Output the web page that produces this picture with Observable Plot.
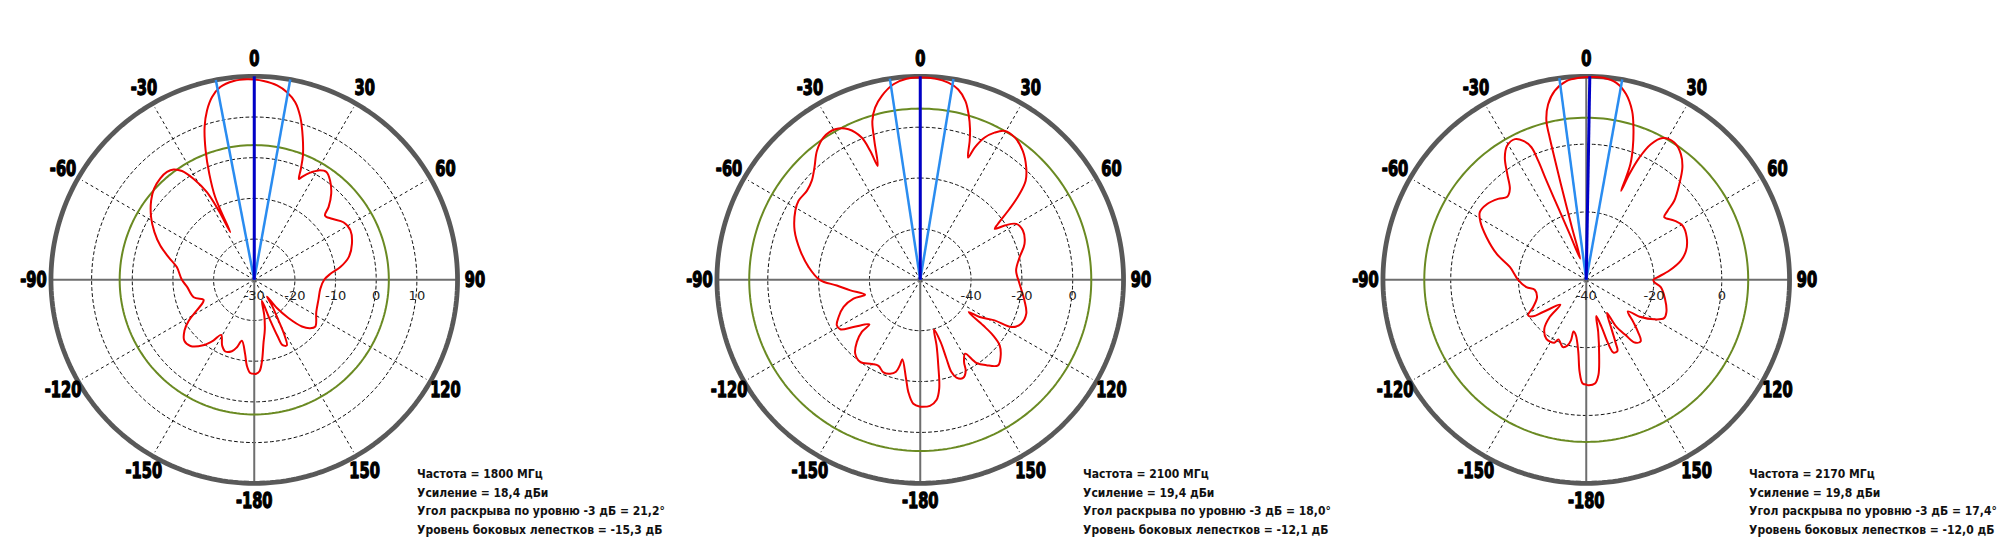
<!DOCTYPE html>
<html>
<head>
<meta charset="utf-8">
<script src="https://cdn.jsdelivr.net/npm/d3@7"></script>
<script src="https://cdn.jsdelivr.net/npm/@observablehq/plot@0.6"></script>
<style>
  html, body { margin: 0; padding: 0; background: #fff; }
  #chart { width: 2000px; height: 558px; }
</style>
</head>
<body>
<div id="chart"></div>
<script>
// ---------- data ----------
const freqs = ["1800", "2100", "2170"];

const angles1800 = [-180,-177.5,-175,-173,-168.5,-165.6,-162.6,-158,-154,-149,-146,-142,-136,-131,-126,-122,-118,-113.8,-111.5,-106,-96,-90,-80.7,-75.2,-70,-64.5,-58.7,-52.4,-47.7,-42.8,-39,-36.2,-33.6,-31,-28.4,-27.2,-26.7,-25.3,-23,-20.6,-18,-15.6,-13,-10,-5.9,-2.1,0,2.7,6.7,9.9,13,15.8,18.8,21.4,22.8,23.9,24.9,27.6,30.5,33.8,37.4,41.8,45.6,47.8,51.9,57.2,62.8,69.8,76.5,81.6,85.5,90,97.8,106.5,117.5,127.4,130.8,134.4,138.2,141.3,142.8,145.5,149.1,151.4,153.6,156.5,157.5,158.5,160,164.3,168,171.5,174.7,176.7,178.8,180];
const db1800 = [-6.9,-7.1,-8.9,-11.6,-14.7,-12.9,-11.6,-11,-12,-14.2,-12,-9.6,-7.4,-7.2,-8.8,-11,-14,-16.2,-16.6,-14.5,-13.4,-12.2,-10.7,-8.2,-5.4,-2.8,-0.3,2.0,3.3,4.0,4.1,3.6,2.1,-1.1,-5.5,-10.8,-16.9,-7.5,-1.7,4.0,9.5,13.2,16.1,18.1,19.1,19.3,19.2,18.9,18.1,16.8,14.8,11.6,7.0,2.8,-0.4,-2.9,-2.1,-0.3,1.2,1.9,0.7,-1.6,-4.4,-6.5,-5.7,-3.9,-3.4,-4.4,-6.1,-8.6,-11.2,-12.8,-13.6,-13.5,-12.8,-11.1,-11.8,-13.6,-17.4,-21.1,-24.8,-22.3,-18.4,-14.4,-12,-12.5,-15,-19.5,-24.5,-20.9,-17.5,-14.5,-9.7,-7.5,-6.9,-6.9];

const angles2100 = [-180,-176.8,-173.9,-171.8,-167.3,-166.6,-165.2,-162.2,-158.3,-154.1,-150,-143.8,-138.6,-134.4,-131.7,-131.2,-125.2,-121.7,-118.6,-114.5,-109.5,-105.8,-105.2,-98.6,-93.9,-90,-83.5,-76.3,-68.6,-61,-57,-51.8,-47.6,-43.3,-38.7,-34.2,-29.5,-25.5,-22.4,-21.2,-20.5,-18.3,-16.8,-14.7,-11.8,-7.8,-3.9,0,4.2,8.1,11.3,14.2,16.3,18.3,19.6,21.4,22.4,24.4,26.8,29.6,33.6,38.5,43.3,46.8,49.2,51.6,54.3,55.7,57.3,59.8,64.4,71,77.2,84.5,92.3,101.2,107.7,113.5,117.4,118.6,122,123.6,125.9,127.3,129.5,133.8,137.7,142.2,145.9,148.7,151.9,153.5,156.4,159.7,161.3,161.6,161.9,164.6,166,168.1,170.1,172.3,175.6,180];
const db2100 = [-10.1,-11.2,-15.7,-20.8,-28,-25.5,-22.6,-21.2,-20.8,-22.4,-21.8,-20,-21.3,-25.1,-29.2,-33.4,-27.8,-23,-22.6,-24.7,-28,-32.7,-37.5,-32.2,-27.1,-20.4,-15.8,-11.4,-6.9,-3.8,-2.9,-3.3,-2.2,0.7,5,7.7,8,5.6,0.5,-5.8,-12.2,-2.5,5.2,10,13.9,17.6,19.2,19.5,19.3,18.3,16.3,12.5,7.8,2.4,-2,-8.4,-3.8,1.4,4.8,7.3,7.2,4.8,0.8,-3.1,-8.4,-15.2,-22.4,-24.5,-20.5,-16.3,-15.2,-16.6,-19.9,-22.1,-20.9,-18.2,-16.2,-16.7,-19.6,-26.7,-32.4,-37.1,-29.5,-24,-19.5,-16.2,-14.5,-17.5,-20.5,-26,-23.4,-19.9,-17.9,-19,-21.7,-27.3,-34.3,-39.7,-33.5,-25.6,-16.6,-12.3,-10.3,-10.1];

const angles2170 = [-180,-178,-175.9,-173.7,-169.5,-166.2,-165.8,-164.1,-160.9,-154.9,-153.1,-145.9,-139.4,-135.5,-133.9,-126.7,-124.5,-121.4,-117.1,-109.4,-101,-97,-90,-80.6,-73.9,-66.9,-61.5,-57.6,-52.6,-47.5,-43.6,-40.1,-36.8,-33.7,-30.6,-26.9,-24.4,-22.5,-22,-21.9,-21.3,-19.9,-15.9,-15.3,-14.9,-14.6,-14.4,-14.1,-12.3,-9.5,-5.7,-1.9,0.9,4.7,8.6,12.1,15.2,17.2,19.4,20.9,21.3,21.4,22.2,23.5,25.5,28.4,32.7,37,40.6,44.2,48.1,49.7,51.3,56.1,60.7,67,73.7,78.5,83.6,87.9,90,92,95.6,103.5,111.9,116.2,120.3,124.3,127.2,131.8,135.2,138.4,142.3,144.5,147.4,147.9,152.7,155.1,156.3,159.5,161,162,164.6,167.1,170.3,172.7,175.2,178.9,180];
const db2170 = [-9.1,-9.4,-12.7,-18.6,-23.3,-24.3,-21.6,-19.9,-19,-20.6,-19.2,-19,-21,-24.6,-29.4,-24.1,-21,-19.9,-22.4,-24.6,-24.5,-22.2,-19.9,-17.2,-12.5,-8,-4.5,-2.8,-3.2,-4.7,-6.2,-5,-1.1,3.3,5.9,6.5,5,2.3,-2.2,-8.5,-17.1,-25.6,-33.5,-24,-12,-2,4,8.3,12.9,16.5,18.9,19.6,19.8,19.8,18.8,16,11.6,7.1,1.4,-3.4,-7.6,-11.8,-6.3,-0.7,4.3,7.5,8.1,6.4,3.6,-0.6,-5.1,-8.5,-10.5,-8.7,-7.4,-7.8,-9.3,-11.5,-15.3,-18.9,-20.2,-19.9,-17.9,-16.1,-14.5,-14.4,-16.9,-20.5,-24.6,-21.4,-18.3,-15.8,-16.6,-19.9,-23.8,-28.5,-23.8,-19.2,-17.1,-17.1,-20.1,-25.4,-28.9,-24.2,-17.4,-11.7,-9.3,-8.9,-9.1];

// radial scale of each chart (dB at the centre and at the outer ring)
const centerDb = [-30, -60, -40];
const outerDb = [20, 20, 20];
const gridDb1800 = [-20, -10, 0, 10];
const gridDb2100 = [-40, -20, 0];
const gridDb2170 = [-20, 0];
const radialTicks1800 = [-30, -20, -10, 0, 10];
const radialTicks2100 = [-40, -20, 0];
const radialTicks2170 = [-40, -20, 0];
// side-lobe level circle (gain + side-lobe level, dBi)
const sideLobeDb = [3.1, 7.3, 7.8];
// beam direction and -3 dB edges, degrees
const beamPeak = [0, 0, 1];
const beamLeft = [-10.9, -8.6, -7.6];
const beamRight = [10.2, 9.4, 10.2];

const angleTicks = [0, 30, 60, 90, 120, 150, 180, -150, -120, -90, -60, -30];
const angleTickLabels = ["0", "30", "60", "90", "120", "150", "-180", "-150", "-120", "-90", "-60", "-30"];
const spokeAngles = [30, 60, 120, 150, -30, -60, -120, -150];

const info1800 = ["Частота = 1800 МГц", "Усиление = 18,4 дБи", "Угол раскрыва по уровню -3 дБ = 21,2°", "Уровень боковых лепестков = -15,3 дБ"];
const info2100 = ["Частота = 2100 МГц", "Усиление = 19,4 дБи", "Угол раскрыва по уровню -3 дБ = 18,0°", "Уровень боковых лепестков = -12,1 дБ"];
const info2170 = ["Частота = 2170 МГц", "Усиление = 19,8 дБи", "Угол раскрыва по уровню -3 дБ = 17,4°", "Уровень боковых лепестков = -12,0 дБ"];

// ---------- assembly ----------
const angleSets = [angles1800, angles2100, angles2170];
const dbSets = [db1800, db2100, db2170];
const gridSets = [gridDb1800, gridDb2100, gridDb2170];
const radialTickSets = [radialTicks1800, radialTicks2100, radialTicks2170];
const infoSets = [info1800, info2100, info2170];

const RAD = Math.PI / 180;
const norm = (i, v) => (v - centerDb[i]) / (outerDb[i] - centerDb[i]);
const X = (r, a) => r * Math.sin(a * RAD);
const Y = (r, a) => r * Math.cos(a * RAD);
const ring = d3.range(0, 361, 1.5);

// layout (pixels)
const W = 2000, H = 558;
const R_PX = 203.5;            // outer ring radius
const CX = 253, CY = 279.3;    // centre inside each facet
const facetW = W / 3;

const curve = [], grid = [], outer = [], green = [], spokes = [], axes = [], beams = [],
      angleLbl = [], radialLbl = [], info = [];
freqs.forEach((f, i) => {
  angleSets[i].forEach((a, k) => curve.push({f, a, r: norm(i, dbSets[i][k])}));
  gridSets[i].forEach(g => ring.forEach(a => grid.push({f, id: g, a, r: norm(i, g)})));
  ring.forEach(a => outer.push({f, a, r: 1}));
  ring.forEach(a => green.push({f, a, r: norm(i, sideLobeDb[i])}));
  spokeAngles.forEach(a => spokes.push({f, a, r: 0.978}));
  [0, 90].forEach(a => axes.push({f, a}));
  beams.push({f, a: beamPeak[i], kind: "peak"});
  beams.push({f, a: beamLeft[i], kind: "edge"});
  beams.push({f, a: beamRight[i], kind: "edge"});
  angleTicks.forEach((a, k) => angleLbl.push({f, a, text: angleTickLabels[k]}));
  radialTickSets[i].forEach(t => radialLbl.push({f, r: norm(i, t), text: String(t)}));
  infoSets[i].forEach((t, k) => info.push({f, line: k, text: t}));
});

const u = px => px / R_PX; // pixels -> plot units
const LABEL_SIZE = 22;

const chart = Plot.plot({
  width: W,
  height: H,
  margin: 0,
  style: {background: "#fff"},
  fx: {domain: freqs, padding: 0, axis: null},
  x: {domain: [-u(CX), u(facetW - CX)], axis: null},
  y: {domain: [-u(H - CY), u(CY)], axis: null},
  marks: [
    // dashed level circles
    Plot.line(grid, {fx: "f", z: "id", x: d => X(d.r, d.a), y: d => Y(d.r, d.a),
      stroke: "#111", strokeWidth: 1, strokeDasharray: "3,3"}),
    // dashed spokes
    Plot.link(spokes, {fx: "f", x1: () => 0, y1: () => 0, x2: d => X(d.r, d.a), y2: d => Y(d.r, d.a),
      stroke: "#111", strokeWidth: 1, strokeDasharray: "3,3"}),
    // solid axes through the centre
    Plot.link(axes, {fx: "f", x1: d => X(-1, d.a), y1: d => Y(-1, d.a), x2: d => X(1, d.a), y2: d => Y(1, d.a),
      stroke: "#6e6e6e", strokeWidth: 2}),
    // side-lobe level circle
    Plot.line(green, {fx: "f", x: d => X(d.r, d.a), y: d => Y(d.r, d.a), stroke: "#6a8a22", strokeWidth: 2}),
    // outer ring
    Plot.line(outer, {fx: "f", x: d => X(d.r, d.a), y: d => Y(d.r, d.a), stroke: "#595959", strokeWidth: 4.8}),
    // radiation pattern
    Plot.line(curve, {fx: "f", x: d => X(d.r, d.a), y: d => Y(d.r, d.a), stroke: "#ee0000", strokeWidth: 2,
      curve: "catmull-rom"}),
    // beam lines
    Plot.link(beams.filter(d => d.kind === "edge"), {fx: "f", x1: () => 0, y1: () => 0,
      x2: d => X(1, d.a), y2: d => Y(1, d.a), stroke: "#2a8cf0", strokeWidth: 2.5}),
    Plot.link(beams.filter(d => d.kind === "peak"), {fx: "f", x1: () => 0, y1: () => 0,
      x2: d => X(1, d.a), y2: d => Y(1, d.a), stroke: "#0000c8", strokeWidth: 3}),
    // angle labels
    Plot.text(angleLbl, {fx: "f", x: d => X(u(221), d.a), y: d => Y(u(221), d.a), text: "text",
      fontFamily: "'DejaVu Sans Condensed', 'DejaVu Sans', sans-serif",
      fontWeight: "bold", fontSize: LABEL_SIZE, fill: "#000", stroke: "#000", strokeWidth: 1.3,
      textAnchor: "middle", lineAnchor: "middle"}),
    // radial tick labels
    Plot.text(radialLbl, {fx: "f", x: d => d.r, y: () => -u(16), text: "text",
      fontFamily: "'DejaVu Sans', sans-serif", fontSize: 13, fill: "#222",
      textAnchor: "middle", lineAnchor: "middle"}),
    // info block
    Plot.text(info, {fx: "f", x: () => u(163), y: d => -u(474 - CY + d.line * 18.4), text: "text",
      fontFamily: "'DejaVu Sans Condensed', 'DejaVu Sans', sans-serif",
      fontWeight: "bold", fontSize: 12, fill: "#111",
      textAnchor: "start", lineAnchor: "middle"})
  ]
});
// narrow the heavy angle labels horizontally (condensed display face)
d3.select(chart).selectAll("g")
  .filter(function () { return this.getAttribute("font-size") == String(LABEL_SIZE); })
  .selectAll("text")
  .each(function () {
    const t = this.getAttribute("transform") || "";
    this.setAttribute("transform", t + " scale(0.74,1)");
  });
document.getElementById("chart").appendChild(chart);
</script>
</body>
</html>
